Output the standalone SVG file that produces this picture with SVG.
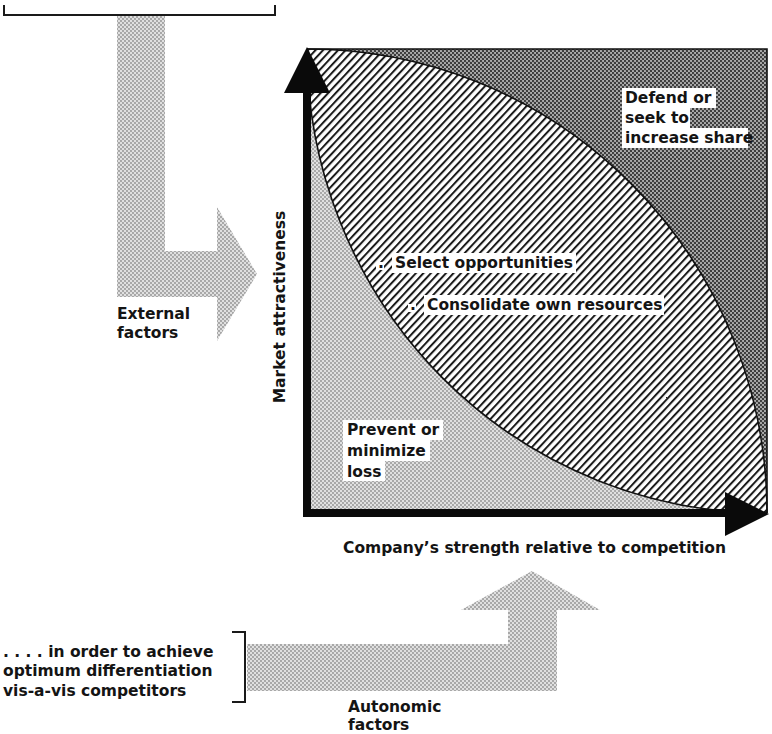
<svg xmlns="http://www.w3.org/2000/svg" width="772" height="734" viewBox="0 0 772 734">
  <style>
    .lbl { font-family: "DejaVu Sans", "Liberation Sans", sans-serif; font-weight: bold; font-size: 15.5px; fill: #141414; }
    .clear { fill: #ffffff; }
    .edge { fill: none; stroke: #111; stroke-width: 1.6; }
    .axis { fill: #0a0a0a; }
    .bracket { fill: none; stroke: #1a1a1a; stroke-width: 2; }
  </style>
  <defs>
    <!-- halftone screens -->
    <pattern id="screenLight" width="4" height="4" patternUnits="userSpaceOnUse">
      <rect width="4" height="4" fill="#e0e0e0"/>
      <circle cx="1" cy="1" r="0.9" fill="#8e8e8e"/>
      <circle cx="3" cy="3" r="0.9" fill="#8e8e8e"/>
    </pattern>
    <pattern id="screenDark" width="4" height="4" patternUnits="userSpaceOnUse">
      <rect width="4" height="4" fill="#acacac"/>
      <circle cx="1" cy="1" r="1.15" fill="#383838"/>
      <circle cx="3" cy="3" r="1.15" fill="#383838"/>
    </pattern>
    <!-- diagonal hatching for the middle lens -->
    <pattern id="hatch" width="5.5" height="5.5" patternUnits="userSpaceOnUse" patternTransform="rotate(-47)">
      <rect width="5.5" height="5.5" fill="#ffffff"/>
      <rect y="0" width="5.5" height="2" fill="#1a1a1a"/>
    </pattern>
  </defs>

  <rect width="772" height="734" fill="#ffffff"/>

  <!-- block arrows feeding the portfolio -->
  <g id="connectors">
    <path id="external-arrow" fill="url(#screenLight)"
          d="M117 15 L165 15 L165 251 L217 251 L217 207 L257 274 L217 341 L217 297 L117 297 Z"/>
    <path id="autonomic-arrow" fill="url(#screenLight)"
          d="M247 644 L508 644 L508 610 L461 610 L532 571 L600 610 L557 610 L557 691 L247 691 Z"/>
  </g>

  <!-- top bracket -->
  <g id="top-bracket">
    <path class="bracket" d="M4 5 L4 15 L275 15 L275 5"/>
  </g>

  <!-- portfolio matrix -->
  <g id="matrix">
    <path id="zone-defend" fill="url(#screenDark)" d="M307 49 L767 49 L767 513 A460 464 0 0 0 307 49 Z"/>
    <path id="zone-select" fill="url(#hatch)" d="M307 49 A460 464 0 0 1 767 513 A460 464 0 0 1 307 49 Z"/>
    <path id="zone-prevent" fill="url(#screenLight)" d="M307 49 A460 464 0 0 0 767 513 L307 513 Z"/>
    <path class="edge" d="M307 49 A460 464 0 0 1 767 513"/>
    <path class="edge" d="M307 49 A460 464 0 0 0 767 513"/>
    <path class="edge" d="M307 49 L767 49 L767 513"/>
    <!-- axes -->
    <rect class="axis" x="303" y="90" width="8" height="427"/>
    <polygon class="axis" points="284,93 330,93 307,47"/>
    <rect class="axis" x="303" y="509" width="424" height="8"/>
    <polygon class="axis" points="725,492 725,536 769,514"/>
  </g>

  <g id="node-defend">
    <rect class="clear" x="622" y="88" width="94" height="20"/>
    <rect class="clear" x="622" y="108" width="68" height="20"/>
    <rect class="clear" x="622" y="128" width="126" height="20"/>
    <text class="lbl" x="625" y="103">Defend or</text>
    <text class="lbl" x="625" y="123">seek to</text>
    <text class="lbl" x="625" y="143">increase share</text>
  </g>

  <g id="node-select">
    <rect class="clear" x="376" y="262" width="8" height="8"/>
    <rect class="clear" x="392" y="253" width="184" height="20"/>
    <text class="lbl" x="378" y="268">.<tspan x="395">Select opportunities</tspan></text>
  </g>

  <g id="node-consolidate">
    <rect class="clear" x="408" y="304" width="8" height="8"/>
    <rect class="clear" x="424" y="295" width="240" height="20"/>
    <text class="lbl" x="410" y="310">.<tspan x="427">Consolidate own resources</tspan></text>
  </g>

  <g id="node-prevent">
    <rect class="clear" x="343" y="420" width="100" height="20"/>
    <rect class="clear" x="343" y="440" width="87" height="21"/>
    <rect class="clear" x="343" y="461" width="42" height="20"/>
    <text class="lbl" x="347" y="435">Prevent or</text>
    <text class="lbl" x="347" y="456">minimize</text>
    <text class="lbl" x="347" y="477">loss</text>
  </g>

  <g id="node-y-axis">
    <text class="lbl" transform="translate(285 307) rotate(-90)" text-anchor="middle">Market attractiveness</text>
  </g>

  <g id="node-x-axis">
    <text class="lbl" x="343" y="553">Company’s strength relative to competition</text>
  </g>

  <g id="node-external">
    <text class="lbl" x="117" y="319">External</text>
    <text class="lbl" x="117" y="338">factors</text>
  </g>

  <g id="node-autonomic">
    <text class="lbl" x="348" y="712">Autonomic</text>
    <text class="lbl" x="348" y="730">factors</text>
  </g>

  <g id="node-goal">
    <text class="lbl" x="3" y="657">. . . . in order to achieve</text>
    <text class="lbl" x="3" y="676">optimum differentiation</text>
    <text class="lbl" x="3" y="696">vis-a-vis competitors</text>
    <path class="bracket" d="M232 632 L245 632 L245 702 L232 702"/>
  </g>
</svg>
